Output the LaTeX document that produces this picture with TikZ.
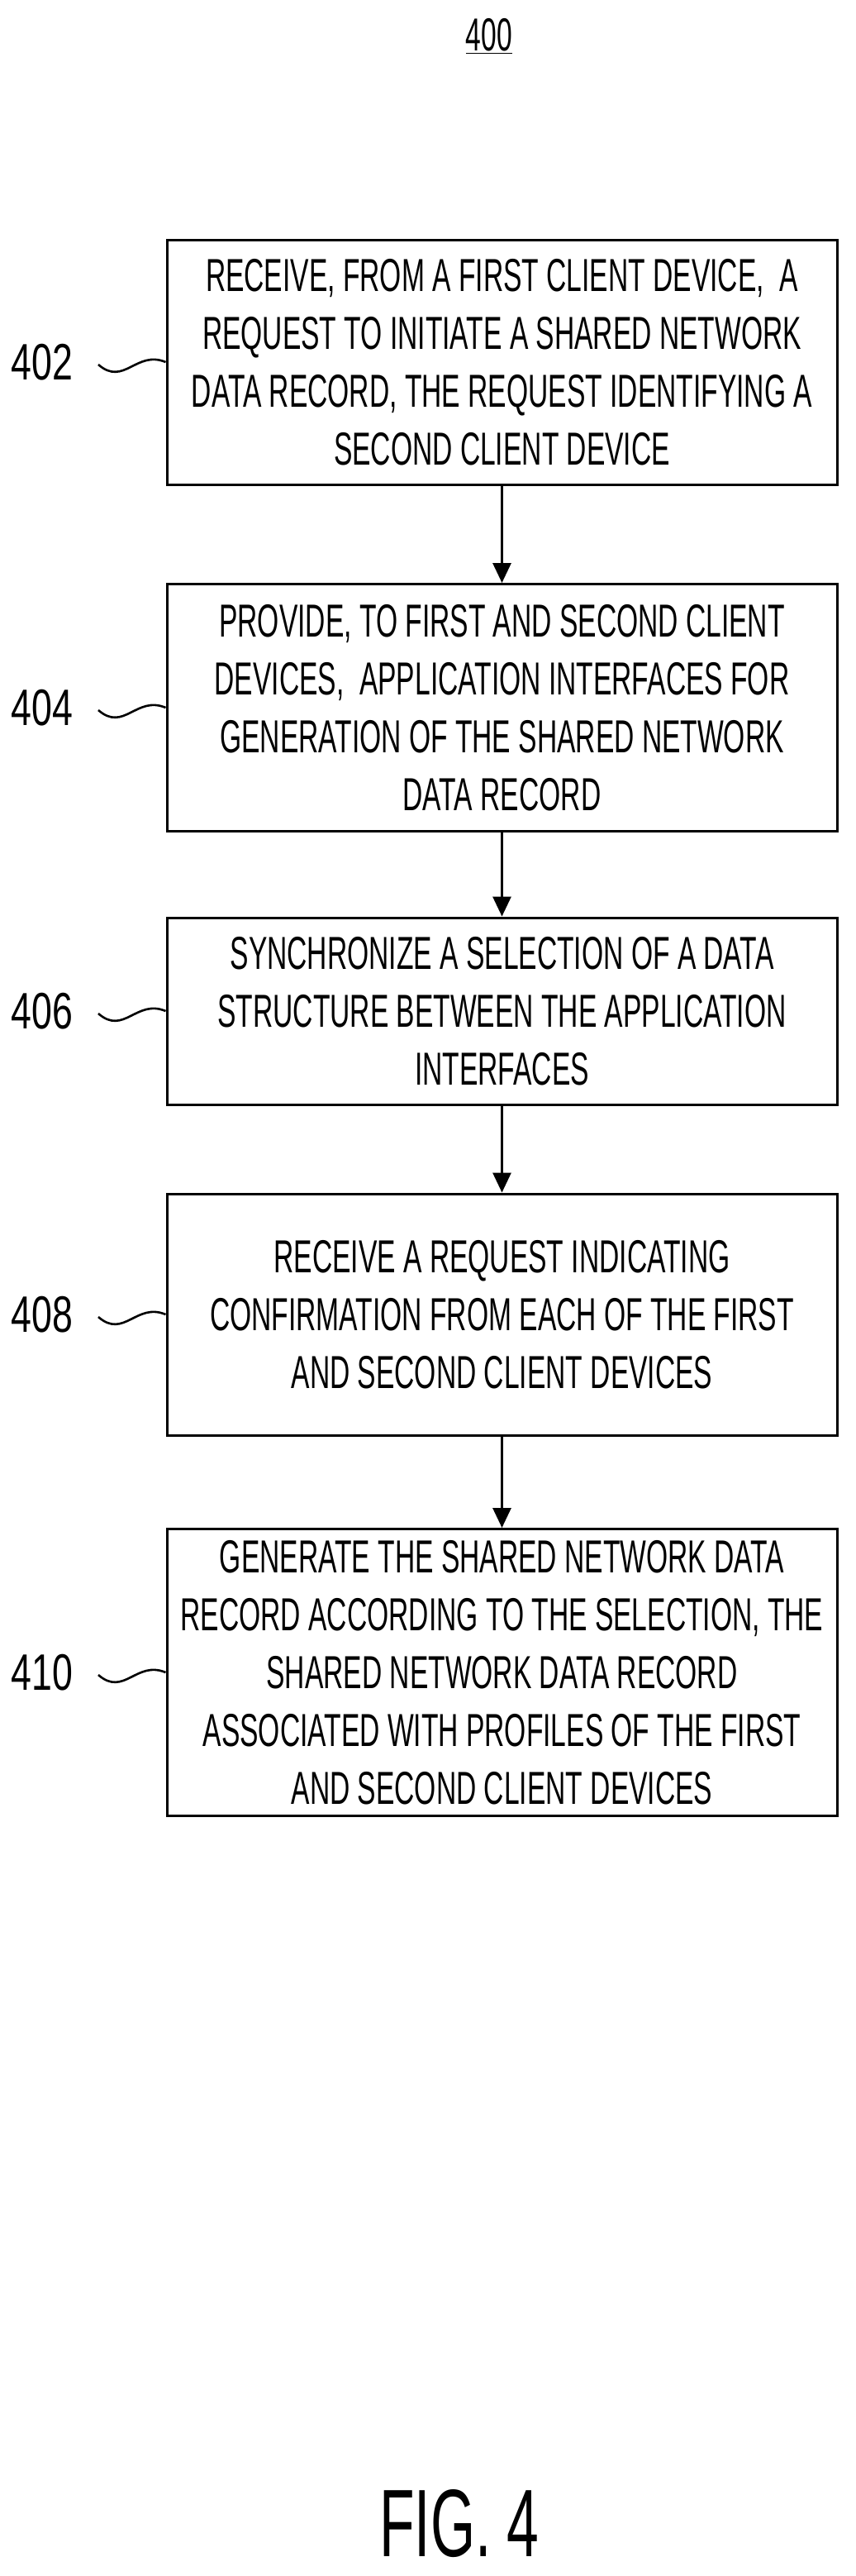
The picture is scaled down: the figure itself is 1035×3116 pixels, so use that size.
\documentclass[tikz,border=0pt]{standalone}
\usepackage{fontspec}
\setmainfont{Liberation Sans}
\newfontfamily\narrowfont[FakeStretch=0.6]{Liberation Sans}
\newfontfamily\labelfont[FakeStretch=0.72]{Liberation Sans}
\usetikzlibrary{arrows.meta}
\tikzset{
  stepbox/.style={draw, line width=1.5pt, minimum width=405.5pt, align=center, inner sep=0pt,
    font=\narrowfont\fontsize{28}{35}\selectfont},
  ref/.style={font=\labelfont\fontsize{31}{35}\selectfont},
  flow/.style={line width=1.5pt, -{Triangle[length=12pt,width=11pt]}},
  squig/.style={line width=1.3pt}
}
\begin{document}
\begin{tikzpicture}[x=0.5pt,y=-0.5pt]
	\useasboundingbox (0,0) rectangle (1035,3116);

	\node[font=\narrowfont\fontsize{28}{30}\selectfont] (title) at (592,44) {\underline{400}};

	\node[stepbox, minimum height=148pt] (b402) at (607.5,438) {RECEIVE, FROM A FIRST CLIENT DEVICE,\ \ A\\REQUEST TO INITIATE A SHARED NETWORK\\DATA RECORD, THE REQUEST IDENTIFYING A\\SECOND CLIENT DEVICE};
	\node[stepbox, minimum height=149.5pt] (b404) at (607.5,856) {PROVIDE, TO FIRST AND SECOND CLIENT\\DEVICES,\ \ APPLICATION INTERFACES FOR\\GENERATION OF THE SHARED NETWORK\\DATA RECORD};
	\node[stepbox, minimum height=113pt] (b406) at (607.5,1223) {SYNCHRONIZE A SELECTION OF A DATA\\STRUCTURE BETWEEN THE APPLICATION\\INTERFACES};
	\node[stepbox, minimum height=146pt] (b408) at (607.5,1590) {RECEIVE A REQUEST INDICATING\\CONFIRMATION FROM EACH OF THE FIRST\\AND SECOND CLIENT DEVICES};
	\node[stepbox, minimum height=173.5pt] (b410) at (607.5,2023) {GENERATE THE SHARED NETWORK DATA\\RECORD ACCORDING TO THE SELECTION, THE\\SHARED NETWORK DATA RECORD\\ASSOCIATED WITH PROFILES OF THE FIRST\\AND SECOND CLIENT DEVICES};

	% reference numerals with their squiggles
	\foreach \n/\y in {402/438, 404/856, 406/1223, 408/1590, 410/2023} {
		\node[ref] (l\n) at (51,\y) {\n};
		\coordinate (t\n) at (119,\y+3);
		\draw[squig] (t\n) .. controls (150,\y+30) and (165,\y-15) .. (b\n.west);
	}

	\draw[flow] (b402) -- (b404);
	\draw[flow] (b404) -- (b406);
	\draw[flow] (b406) -- (b408);
	\draw[flow] (b408) -- (b410);

	\node[font=\narrowfont\fontsize{58}{60}\selectfont] (fig) at (556,3053) {FIG. 4};
\end{tikzpicture}
\end{document}
